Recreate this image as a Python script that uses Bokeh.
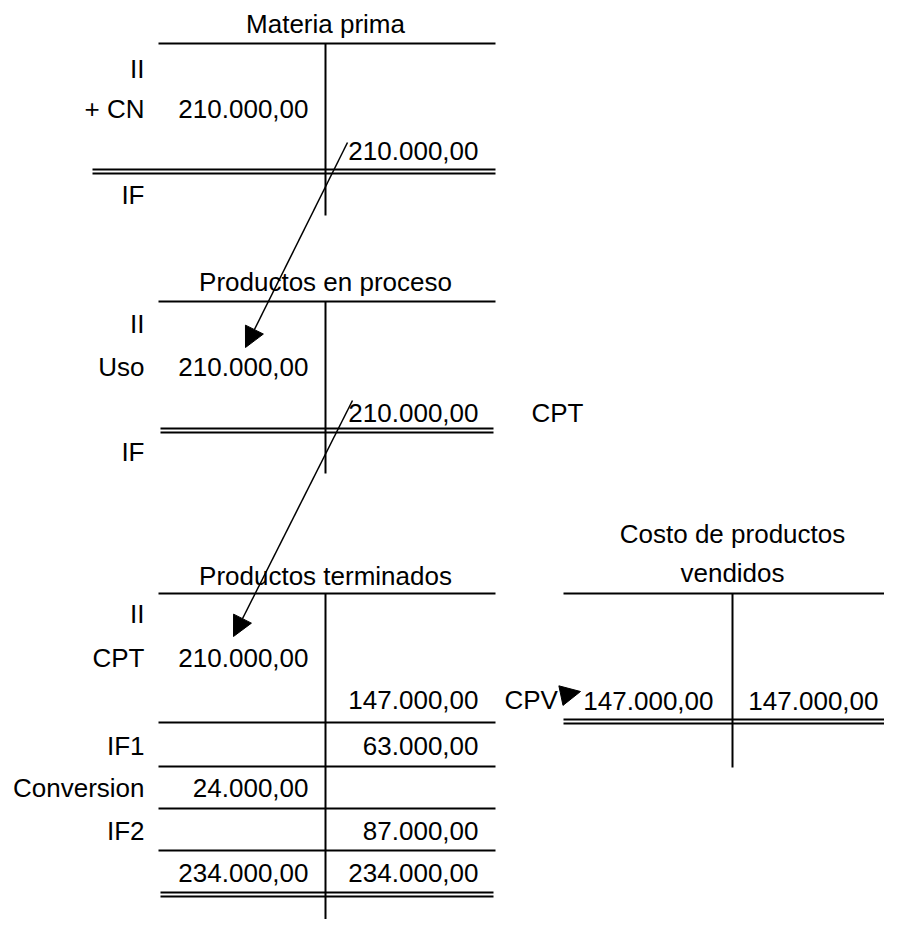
from bokeh.plotting import figure
from bokeh.models import Range1d, ColumnDataSource, Arrow, NormalHead
from bokeh.core.properties import value
from bokeh.embed import file_html
from bokeh.resources import INLINE

# ---------------- data ----------------
mp_title = "Materia prima"
mp_rows = ["II", "+ CN", "", "IF"]
mp_debe = [None, 210000, None, None]
mp_haber = [None, None, 210000, None]

pep_title = "Productos en proceso"
pep_rows = ["II", "Uso", "", "IF"]
pep_debe = [None, 210000, None, None]
pep_haber = [None, None, 210000, None]
pep_side = ["", "", "CPT", ""]

pt_title = "Productos terminados"
pt_rows = ["II", "CPT", "", "IF1", "Conversion", "IF2", ""]
pt_debe = [None, 210000, None, None, 24000, None, 234000]
pt_haber = [None, None, 147000, 63000, None, 87000, 234000]
pt_side = ["", "", "CPV", "", "", "", ""]

cpv_title = ["Costo de productos", "vendidos"]
cpv_debe = [147000]
cpv_haber = [147000]


def fmt(v):
    s = f"{v:,.2f}"
    return s.replace(",", "X").replace(".", ",").replace("X", ".")


FONT = value("Liberation Sans")
FS = "26px"
W, H = 884, 919

# ---------------- layout (screen-like coordinates) ----------------
p = figure(width=W, height=H, x_range=Range1d(0, W), y_range=Range1d(H, 0),
           output_backend="svg", toolbar_location=None, min_border=0)
p.axis.visible = False
p.grid.visible = False
p.outline_line_color = None
p.background_fill_color = "white"
p.border_fill_color = "white"

seg = dict(x0=[], y0=[], x1=[], y1=[])
txt = {"right": dict(x=[], y=[], t=[]), "left": dict(x=[], y=[], t=[]), "center": dict(x=[], y=[], t=[])}


def add_seg(x0, y0, x1, y1):
    seg["x0"].append(x0); seg["y0"].append(y0); seg["x1"].append(x1); seg["y1"].append(y1)


def add_txt(align, x, y, t):
    if t:
        txt[align]["x"].append(x); txt[align]["y"].append(y); txt[align]["t"].append(t)


def account(title_lines, title_ys, cx, top, bottom, left, right, label_x, debe_x, haber_x,
            rows, centers, debe, haber, side=None, side_x=None, singles=(), double=None):
    for t, ty in zip(title_lines, title_ys):
        add_txt("center", cx, ty, t)
    add_seg(left, top, right, top)
    add_seg(cx, top, cx, bottom)
    for i, b in enumerate(centers):
        if rows is not None:
            add_txt("right", label_x, b, rows[i])
        if debe[i] is not None:
            add_txt("right", debe_x, b, fmt(debe[i]))
        if haber[i] is not None:
            add_txt("right", haber_x, b, fmt(haber[i]))
        if side is not None:
            add_txt("left", side_x, b, side[i])
    for y in singles:
        add_seg(left, y, right, y)
    if double is not None:
        dl, dr, ya, yb = double
        add_seg(dl, ya, dr, ya)
        add_seg(dl, yb, dr, yb)


account([mp_title], [23], 325, 43, 215, 158, 495, 144, 308, 478,
        mp_rows, [68, 108, 150, 194], mp_debe, mp_haber,
        double=(92, 495, 169, 173))

account([pep_title], [281], 325, 301, 473, 158, 495, 144, 308, 478,
        pep_rows, [323, 366, 412, 451], pep_debe, pep_haber,
        side=pep_side, side_x=531, double=(160, 493, 428, 432))

account([pt_title], [575], 325, 593, 933, 158, 495, 144, 308, 478,
        pt_rows, [613, 657, 699, 745, 787, 830, 872], pt_debe, pt_haber,
        side=pt_side, side_x=504, singles=(722, 766, 808, 850),
        double=(160, 493, 892, 896))

account(cpv_title, [533, 572], 732, 593, 767, 563, W, None, 713, 878,
        None, [700], cpv_debe, cpv_haber, double=(563, W, 719, 723))

p.segment(x0="x0", y0="y0", x1="x1", y1="y1", source=ColumnDataSource(seg),
          line_color="black", line_width=2)

for align, d in txt.items():
    p.text(x="x", y="y", text="t", source=ColumnDataSource(d), text_align=align,
           text_baseline="middle", text_font=FONT, text_font_size=FS, text_color="black")

# arrows linking the accounts
arrows = ColumnDataSource(dict(xs=[347, 352, 561], ys=[142, 400, 695],
                               xe=[245, 233, 580], ye=[347, 636, 691]))
p.add_layout(Arrow(end=NormalHead(size=20, fill_color="black", line_color="black", line_width=1),
                   x_start="xs", y_start="ys", x_end="xe", y_end="ye", source=arrows,
                   line_color="black", line_width=1.5))

open("out.html", "w").write(file_html(p, INLINE))
